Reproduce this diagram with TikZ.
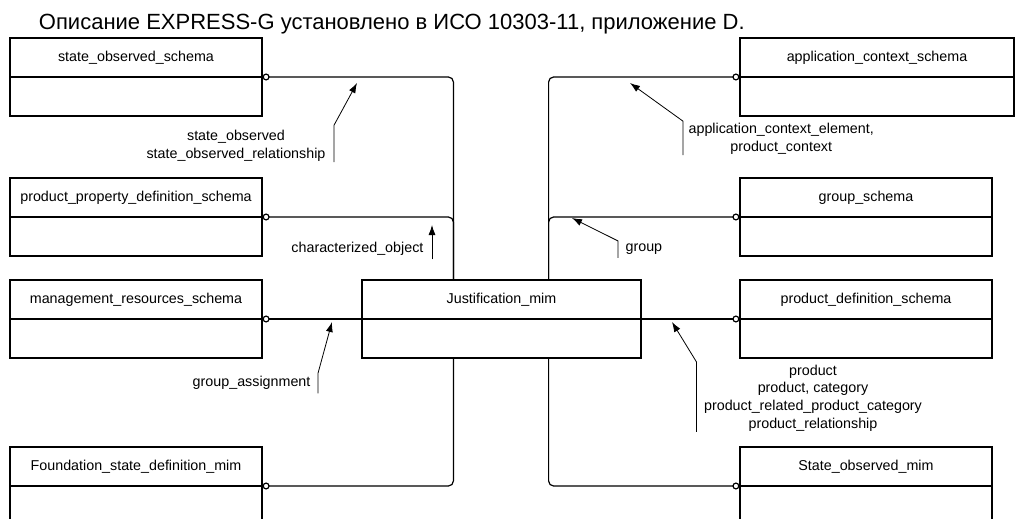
\documentclass[tikz,border=0pt]{standalone}
\usepackage{fontspec}
\setmainfont{Liberation Sans}
\usetikzlibrary{arrows.meta}
\begin{document}
\begin{tikzpicture}[x=1pt,y=-1pt, line width=1.2pt,
  every node/.style={font=\fontsize{14.3}{17.8}\selectfont},
  schema/.style={draw,minimum width=252pt,minimum height=78pt,inner sep=0pt,
    label={[yshift=19.5pt]center:#1}},
  conn/.style={{Circle[open,length=7pt,width=7pt]}-,rounded corners=5pt},
  lbl/.style={inner sep=0pt,align=center},
  ptr/.style={-{Latex[length=10pt,width=7pt]},line width=0.8pt}]
\useasboundingbox (0,0) rectangle (1015,519);
\node[anchor=base west,font=\fontsize{22}{26}\selectfont] (title) at (35,30) {Описание EXPRESS-G установлено в ИСО 10303-11, приложение D.};
\node[schema=state\_observed\_schema] (sos) at (136,77) {};
\node[schema=product\_property\_definition\_schema] (ppd) at (136,217) {};
\node[schema=management\_resources\_schema] (mrs) at (136,319) {};
\node[schema=Foundation\_state\_definition\_mim] (fsd) at (136,486) {};
\node[schema=application\_context\_schema,minimum width=274pt] (acs) at (877,77) {};
\node[schema=group\_schema] (grp) at (866,217) {};
\node[schema=product\_definition\_schema] (pds) at (866,319) {};
\node[schema=State\_observed\_mim] (som) at (866,486) {};
\node[schema=Justification\_mim,minimum width=279pt] (jm) at (501.5,319) {};
\foreach \n in {sos,ppd,mrs,fsd,acs,grp,pds,som,jm}
  \draw (\n.west) -- (\n.east);
\draw[conn] (sos.east) -| ([xshift=92pt]jm.north west);
\draw[conn] (ppd.east) -| ([xshift=92pt]jm.north west);
\draw[conn] (mrs.east) -- (jm.west);
\draw[conn] (fsd.east) -| ([xshift=92pt]jm.south west);
\draw[conn] (acs.west) -| ([xshift=-93pt]jm.north east);
\draw[conn] (grp.west) -| ([xshift=-93pt]jm.north east);
\draw[conn] (pds.west) -- (jm.east);
\draw[conn] (som.west) -| ([xshift=-93pt]jm.south east);
\coordinate (so-tip) at (357,83);
\coordinate (co-tip) at (432,225);
\coordinate (ga-tip) at (332,322);
\coordinate (ac-tip) at (630,83);
\coordinate (gr-tip) at (572,218);
\coordinate (pd-tip) at (672,322);
\node[lbl] (lso) at (236,146) {state\_observed\\state\_observed\_relationship};
\node[lbl,anchor=east] (lco) at (424,249) {characterized\_object};
\node[lbl,anchor=east] (lga) at (311,383) {group\_assignment};
\node[lbl,anchor=west] (lac) at (688,139) {application\_context\_element,\\product\_context};
\node[lbl,anchor=west] (lgr) at (625,249) {group};
\node[lbl] (lpd) at (813,398) {product\\product, category\\product\_related\_product\_category\\product\_relationship};
\draw[ptr] ([xshift=8pt]lso.south east) -- ++(0,-37) -- (so-tip);
\draw[ptr] ([xshift=8pt,yshift=-3pt]lco.south east) -- (co-tip);
\draw[ptr] ([xshift=7pt,yshift=-3pt]lga.south east) -- ++(0,-20) -- (ga-tip);
\draw[ptr] ([xshift=-5pt]lac.south west) -- ++(0,-34) -- (ac-tip);
\draw[ptr] ([xshift=-7pt,yshift=-3pt]lgr.south west) -- ++(0,-17) -- (gr-tip);
\draw[ptr] ([xshift=-7pt]lpd.south west) -- ++(0,-70) -- (pd-tip);
\end{tikzpicture}
\end{document}
